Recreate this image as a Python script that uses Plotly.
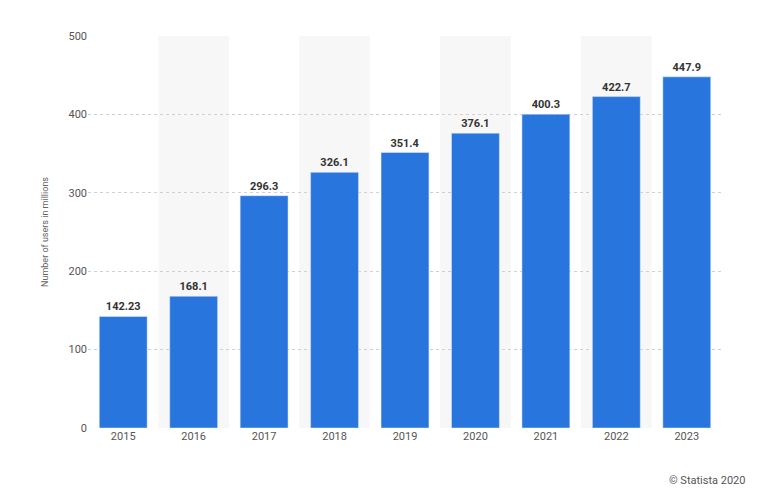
import plotly.graph_objects as go

years = ["2015","2016","2017","2018","2019","2020","2021","2022","2023"]
users = [142.23,168.1,296.3,326.1,351.4,376.1,400.3,422.7,447.9]
labels = ["142.23","168.1","296.3","326.1","351.4","376.1","400.3","422.7","447.9"]

fig = go.Figure(go.Bar(x=years, y=users, marker_color="#2876dd", width=0.68,
    text=labels, textposition="outside", cliponaxis=False,
    textfont=dict(family="Roboto", size=11, color="#333333", weight="bold")))

shapes = []
for i in range(1, len(years), 2):
    shapes.append(dict(type="rect", xref="x", yref="paper", x0=i-0.5, x1=i+0.5, y0=0, y1=1,
                       fillcolor="#f7f7f7", line_width=0, layer="below"))

fig.update_layout(
    width=757, height=479, margin=dict(l=80, r=43, t=28, b=59),
    plot_bgcolor="white", paper_bgcolor="white", shapes=shapes, showlegend=False,
    font=dict(family="Roboto", color="#666666", size=11),
    xaxis=dict(showgrid=False, ticks="", tickfont=dict(size=11, color="#555555")),
    yaxis=dict(range=[0,500], dtick=100, gridcolor="#d0d0d0", griddash="dot", zeroline=False,
               title=dict(text="Number of users in millions", font=dict(size=9, color="#666666"), standoff=18),
               tickfont=dict(size=11, color="#555555")),
    annotations=[dict(text="© Statista 2020", xref="paper", yref="paper", x=1.04, y=-0.155,
                      xanchor="right", yanchor="bottom", showarrow=False,
                      font=dict(size=11, color="#555555"))]
)
fig.write_html("out.html")
